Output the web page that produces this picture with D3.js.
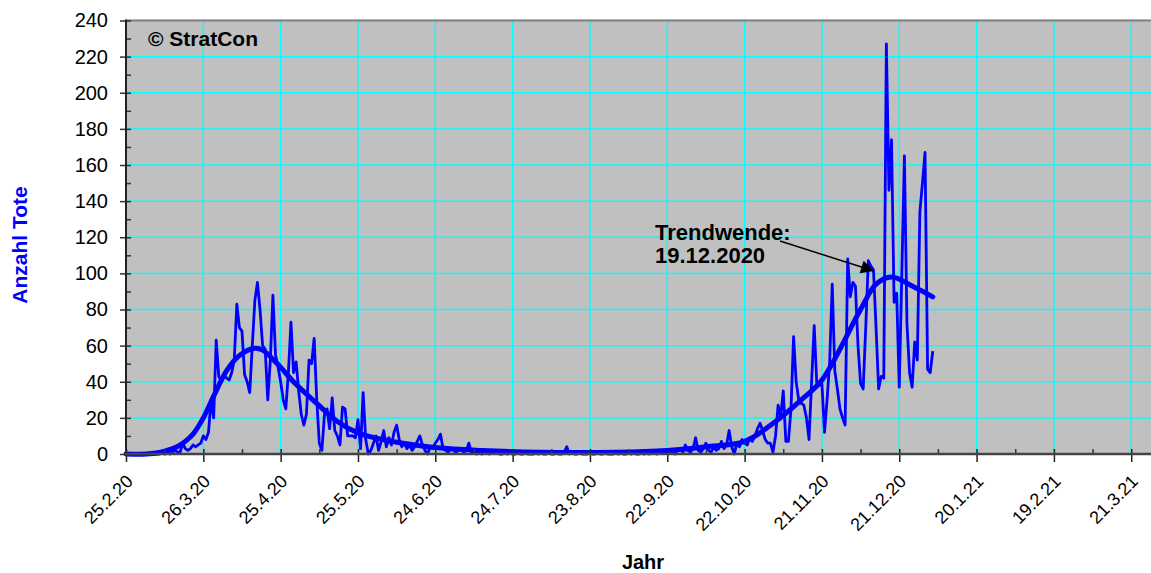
<!DOCTYPE html>
<html>
<head>
<meta charset="utf-8">
<script src="https://cdn.jsdelivr.net/npm/d3@7"></script>
<style>
  body { margin: 0; background: #fff; }
  svg { display: block; font-family: "Liberation Sans", Arial, sans-serif; }
</style>
</head>
<body>
<div id="chart"></div>
<script>
const svgWidth = 1151;
const svgHeight = 573;
const plot = {left: 126, right: 1157, top: 20.5, bottom: 454};

// Daily values, starting 25.2.2020 (one value per day)
const startDate = '2020-02-25';
const dailyDeaths = [
  0, 0, 0, 0, 0, 0, 0, 0, 0, 0, 0, 0, 0,
  0, 1, 0, 1, 0, 1, 2,
  1, 1, 6, 3, 2, 3, 5, 4, 5, 6,
  10, 8, 12, 30, 20, 63, 43, 40, 44, 42,
  41, 45, 52, 83, 70, 68, 44, 40, 34, 60,
  85, 95, 80, 60, 58, 30, 52, 88, 55, 48,
  40, 30, 25, 45, 73, 45, 51, 35, 22, 16,
  22, 52, 50, 64, 30, 6, 2, 22, 25, 14,
  31, 13, 10, 5, 26, 25, 10, 10, 10, 9,
  19, 3, 34, 8, 0, 2, 6, 10, 2, 7,
  13, 4, 9, 5, 12, 16, 8, 4, 6, 3,
  5, 2, 4, 7, 10, 5, 2, 0, 4, 3,
  6, 8, 11, 3, 2, 1, 3, 2, 1, 2,
  3, 1, 2, 6, 1, 1, 0, 1, 0, 1,
  1, 0, 1, 2,
  1, 0, 0, 1, 0, 1, 0, 0, 1, 0, 0, 1, 0, 0, 0, 1, 0, 1, 0, 0, 1, 0, 0, 1, 0, 0, 1,
  4,
  0, 1, 0, 0, 1, 0, 0, 0, 1, 0, 0, 1, 0, 0, 1, 0, 0, 0, 1, 0, 1, 0, 0, 1, 0, 1, 0, 0, 1, 0, 1, 0, 1,
  1, 0, 1, 2, 1, 1, 2, 1, 0, 2, 3, 1, 5, 2, 1, 3, 9, 2, 1, 3, 6, 2, 1, 4, 2, 3, 7, 3, 5, 13, 4, 0, 6, 4, 8,
  6, 5, 9, 7, 10, 14, 17, 13, 8, 6, 6, 1, 10, 27, 21, 35, 7, 7,
  25, 65, 40, 30, 28, 27, 20, 8, 40, 71, 39, 38, 39, 12, 30, 51, 94, 46, 36, 25, 20, 16,
  108, 87, 95, 93, 60, 39, 36, 70, 107, 104, 102, 70,
  36, 43, 42, 227, 146, 174, 84, 89, 37, 100, 165, 72, 45, 37, 62, 52, 134, 150, 167, 47, 45, 57
];

// Trend curve, read at selected days after 25.2.2020
const trendDays = [0, 8, 13, 17, 20, 23, 26, 30, 34, 39, 44, 50, 53, 59, 65, 74, 82, 90, 98, 108, 121, 138, 160, 190, 210, 225, 240, 252, 262, 270, 285, 291, 297, 305, 313];
const trendValues = [0, 0, 0.8, 2.5, 4.2, 7, 11, 20, 32, 46, 54.5, 58.5, 57.5, 49.5, 40, 28, 18, 11.7, 8.5, 5.8, 3.4, 2, 1, 1, 2, 4, 7, 18, 30, 41, 80, 94, 98, 93, 87];

// Axis ticks
const xTickStep = 30; // days between labelled ticks
const xTickCount = 14;
const yTicks = d3.range(0, 241, 20);
const yMinorTicks = d3.range(10, 240, 20);

const parseDate = d3.utcParse('%Y-%m-%d');
const formatTick = d3.utcFormat('%-d.%-m.%y');
const start = parseDate(startDate);
const dayToDate = d => d3.utcDay.offset(start, d);

const data = dailyDeaths.map((v, i) => ({date: dayToDate(i), value: v}));
const trend = trendDays.map((d, i) => ({date: dayToDate(d), value: trendValues[i]}));

const xTicks = d3.range(xTickCount).map(i => dayToDate(i * xTickStep));
const xMinorTicks = d3.range(xTickCount).map(i => dayToDate(i * xTickStep + xTickStep / 2));

const x = d3.scaleUtc()
  .domain([start, dayToDate(400)])
  .range([plot.left, plot.right]);
const y = d3.scaleLinear().domain([0, 240]).range([plot.bottom, plot.top]);

const svg = d3.select('#chart').append('svg')
  .attr('width', svgWidth)
  .attr('height', svgHeight);

// Plot background
svg.append('rect')
  .attr('x', plot.left).attr('y', plot.top)
  .attr('width', plot.right - plot.left).attr('height', plot.bottom - plot.top)
  .attr('fill', '#c0c0c0');

// Grid lines
svg.append('g').selectAll('line.hgrid')
  .data(yTicks.filter(d => d > 0))
  .enter().append('line')
    .attr('x1', plot.left).attr('x2', plot.right)
    .attr('y1', d => y(d)).attr('y2', d => y(d))
    .attr('stroke', '#00ffff').attr('stroke-width', 1.5);

svg.append('g').selectAll('line.vgrid')
  .data(xTicks.slice(1))
  .enter().append('line')
    .attr('x1', d => x(d)).attr('x2', d => x(d))
    .attr('y1', plot.top).attr('y2', plot.bottom)
    .attr('stroke', '#00ffff').attr('stroke-width', 1.5);

// Top border
svg.append('line')
  .attr('x1', plot.left).attr('x2', plot.right)
  .attr('y1', plot.top).attr('y2', plot.top)
  .attr('stroke', '#808080').attr('stroke-width', 2);

// Lines
const line = d3.line()
  .x(d => x(d.date))
  .y(d => y(d.value));

svg.append('path')
  .datum(data)
  .attr('fill', 'none')
  .attr('stroke', '#0000ff')
  .attr('stroke-width', 2.8)
  .attr('stroke-linejoin', 'round')
  .attr('d', line);

svg.append('path')
  .datum(trend)
  .attr('fill', 'none')
  .attr('stroke', '#0000ff')
  .attr('stroke-width', 5)
  .attr('stroke-linecap', 'round')
  .attr('d', line.curve(d3.curveCatmullRom.alpha(0.5)));

// Y axis
const yAxis = svg.append('g')
  .attr('transform', 'translate(' + plot.left + ',0)')
  .call(d3.axisLeft(y).tickValues(yTicks).tickSize(6).tickPadding(12).tickFormat(d3.format('d')));
yAxis.select('.domain').remove();
yAxis.selectAll('.tick line').attr('x1', 5).attr('stroke', '#333').attr('stroke-width', 1.5);
yAxis.selectAll('.tick text').style('font-size', '20px').attr('fill', '#000');

const yMinor = svg.append('g')
  .attr('transform', 'translate(' + plot.left + ',0)')
  .call(d3.axisLeft(y).tickValues(yMinorTicks).tickSize(-5).tickFormat(''));
yMinor.select('.domain').remove();
yMinor.selectAll('.tick line').attr('stroke', '#333').attr('stroke-width', 1.5);

// X axis
const xAxis = svg.append('g')
  .attr('transform', 'translate(0,' + plot.bottom + ')')
  .call(d3.axisBottom(x).tickValues(xTicks).tickSize(8).tickFormat(formatTick));
xAxis.select('.domain').remove();
xAxis.selectAll('.tick line').attr('y1', -5).attr('stroke', '#222').attr('stroke-width', 1.5);
xAxis.selectAll('.tick text')
  .style('font-size', '18px')
  .attr('fill', '#000')
  .attr('text-anchor', 'end')
  .attr('x', 0).attr('y', 0).attr('dy', '0.35em')
  .attr('transform', 'translate(3,24) rotate(-45)');

const xMinor = svg.append('g')
  .attr('transform', 'translate(0,' + plot.bottom + ')')
  .call(d3.axisBottom(x).tickValues(xMinorTicks).tickSize(-5).tickFormat(''));
xMinor.select('.domain').remove();
xMinor.selectAll('.tick line').attr('stroke', '#333').attr('stroke-width', 1.5);

// Axis lines
svg.append('line')
  .attr('x1', plot.left).attr('x2', plot.left)
  .attr('y1', plot.top - 1).attr('y2', plot.bottom + 1)
  .attr('stroke', '#222').attr('stroke-width', 2);
svg.append('line')
  .attr('x1', plot.left - 1).attr('x2', plot.right)
  .attr('y1', plot.bottom).attr('y2', plot.bottom)
  .attr('stroke', '#444').attr('stroke-width', 2.5);

// Titles
svg.append('text')
  .attr('transform', 'translate(27,245) rotate(-90)')
  .attr('text-anchor', 'middle')
  .attr('fill', '#0000ff')
  .style('font-size', '21px').style('font-weight', 'bold')
  .text('Anzahl Tote');

svg.append('text')
  .attr('x', 643).attr('y', 569)
  .attr('text-anchor', 'middle')
  .style('font-size', '20px').style('font-weight', 'bold')
  .text('Jahr');

svg.append('text')
  .attr('x', 148).attr('y', 46)
  .style('font-size', '21px').style('font-weight', 'bold')
  .text('© StratCon');

// Annotation
const note = svg.append('text')
  .style('font-size', '22px').style('font-weight', 'bold');
note.append('tspan').attr('x', 655).attr('y', 240).text('Trendwende:');
note.append('tspan').attr('x', 655).attr('y', 263).text('19.12.2020');

svg.append('defs').append('marker')
  .attr('id', 'arrow')
  .attr('viewBox', '0 0 10 10')
  .attr('refX', 10).attr('refY', 5)
  .attr('markerWidth', 17).attr('markerHeight', 13)
  .attr('markerUnits', 'userSpaceOnUse')
  .attr('orient', 'auto')
  .append('path').attr('d', 'M0,0 L10,5 L0,10 Z').attr('fill', '#000');

svg.append('line')
  .attr('x1', 780).attr('y1', 241)
  .attr('x2', 874).attr('y2', 271)
  .attr('stroke', '#000').attr('stroke-width', 1.5)
  .attr('marker-end', 'url(#arrow)');
</script>
</body>
</html>
